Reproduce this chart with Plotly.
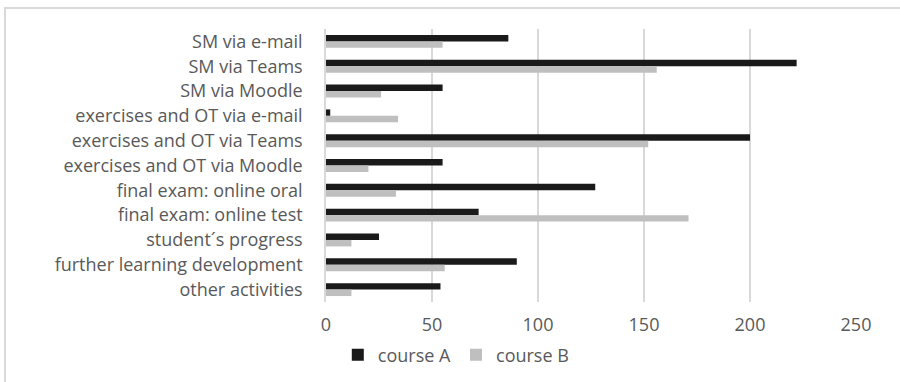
import plotly.graph_objects as go

# Activities and counts per course
categories = [
    "SM via e-mail",
    "SM via Teams",
    "SM via Moodle",
    "exercises and OT via e-mail",
    "exercises and OT via Teams",
    "exercises and OT via Moodle",
    "final exam: online oral",
    "final exam: online test",
    "student\u00b4s progress",
    "further learning development",
    "other activities",
]
course_a = [86, 222, 55, 2, 200, 55, 127, 72, 25, 90, 54]
course_b = [55, 156, 26, 34, 152, 20, 33, 171, 12, 56, 12]
x_ticks = [0, 50, 100, 150, 200, 250]

TEXT = "#595959"
GRID = "#d9d9d9"
FONT = "Open Sans"

W, H = 900, 382
L, R, T, B = 326, 44, 29, 80
pw, ph = W - L - R, H - T - B

fig = go.Figure()
fig.add_trace(go.Bar(y=categories, x=course_a, name="course A", orientation="h",
                     marker=dict(color="#1a1a1a", line=dict(width=0))))
fig.add_trace(go.Bar(y=categories, x=course_b, name="course B", orientation="h",
                     marker=dict(color="#bfbfbf", line=dict(width=0))))

# light frame around the chart area (its right and bottom edges run off the page)
fig.add_shape(type="rect", xref="paper", yref="paper",
              x0=(5 - L) / pw, x1=(W + 20 - L) / pw,
              y0=-(H + 20 - T - ph) / ph, y1=1 + (T - 8) / ph,
              line=dict(color=GRID, width=2), fillcolor="rgba(0,0,0,0)", layer="below")

fig.update_layout(
    width=W, height=H,
    margin=dict(l=L, r=R, t=T, b=B, autoexpand=False),
    paper_bgcolor="white", plot_bgcolor="white",
    barmode="group", bargap=0.48, bargroupgap=0,
    font=dict(family=FONT, size=18, color=TEXT),
    showlegend=True,
    legend=dict(orientation="h", xref="container", yref="container",
                x=0.507, y=1 - 355 / H, xanchor="center", yanchor="middle",
                font=dict(family=FONT, size=18, color=TEXT),
                itemwidth=30, traceorder="normal"),
    xaxis=dict(range=[0, 250], tickvals=x_ticks, showgrid=True, gridcolor=GRID,
               gridwidth=1.5, zeroline=False, showline=False, ticks="",
               ticklabelstandoff=10, automargin=False, fixedrange=True),
    yaxis=dict(autorange="reversed", showgrid=False, zeroline=False,
               showline=True, linecolor=GRID, linewidth=1.5, ticks="",
               ticklabelstandoff=18, automargin=False, fixedrange=True),
)

fig.write_html("out.html")
